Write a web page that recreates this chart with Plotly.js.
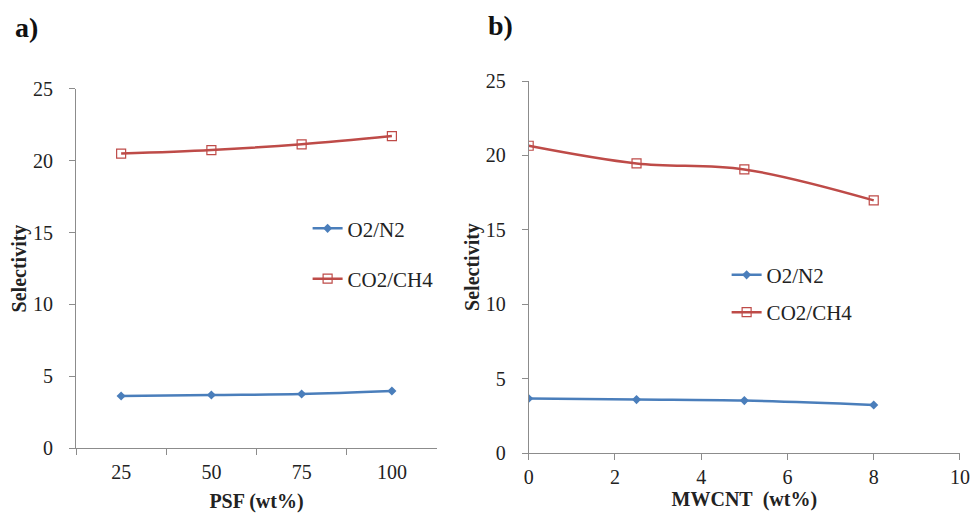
<!DOCTYPE html>
<html>
<head>
<meta charset="utf-8">
<script src="https://cdn.plot.ly/plotly-3.0.1.min.js"></script>
<style>html,body{margin:0;padding:0;background:#fff;}#chart{width:974px;height:513px;}</style>
</head>
<body>
<div id="chart"></div>
<script>
// Panel a) PSF content
const psfCategories = ["25", "50", "75", "100"];
const psfO2N2 = [3.62, 3.69, 3.76, 3.97];
const psfCO2CH4 = [20.5, 20.75, 21.15, 21.72];

// Panel b) MWCNT content
const mwcntX = [0, 2.5, 5, 8];
const mwcntO2N2 = [3.66, 3.59, 3.52, 3.23];
const mwcntCO2CH4 = [20.65, 19.46, 19.06, 16.98];

const seriesNames = ["O2/N2", "CO2/CH4"];
const yTicks = [0, 5, 10, 15, 20, 25];
const xTicksB = [0, 2, 4, 6, 8, 10];

const blue = "#4a7ebb";
const red = "#be4b48";
const serif = "'Times New Roman', 'Liberation Serif', Times, serif";

const traces = [
  {x: psfCategories, y: psfO2N2, name: seriesNames[0], xaxis: "x", yaxis: "y", legend: "legend", legendgroup: "a1",
   mode: "lines+markers", line: {color: blue, width: 2.5, shape: "spline"}, marker: {symbol: "diamond", size: 7, color: blue}},
  {x: psfCategories, y: psfCO2CH4, name: seriesNames[1], xaxis: "x", yaxis: "y", legend: "legend", legendgroup: "a2",
   mode: "lines+markers", line: {color: red, width: 2.5, shape: "spline"}, marker: {symbol: "square-open", size: 9, color: red, line: {width: 1.2}}},
  {x: mwcntX, y: mwcntO2N2, name: seriesNames[0], xaxis: "x2", yaxis: "y2", legend: "legend2", legendgroup: "b1",
   mode: "lines+markers", line: {color: blue, width: 2.5, shape: "spline"}, marker: {symbol: "diamond", size: 7, color: blue}},
  {x: mwcntX, y: mwcntCO2CH4, name: seriesNames[1], xaxis: "x2", yaxis: "y2", legend: "legend2", legendgroup: "b2",
   mode: "lines+markers", line: {color: red, width: 2.5, shape: "spline"}, marker: {symbol: "square-open", size: 9, color: red, line: {width: 1.2}}}
];

function axisBase() {
  return {
    showgrid: false, zeroline: false, showline: true, linecolor: "#8c8c8c", linewidth: 1,
    ticks: "outside", ticklen: 6, tickcolor: "#8c8c8c",
    tickfont: {family: serif, size: 20, color: "#222"}
  };
}

const layout = {
  width: 974, height: 513,
  margin: {l: 76, r: 14, t: 81, b: 60},
  paper_bgcolor: "#fff", plot_bgcolor: "#fff",
  font: {family: serif, size: 20, color: "#222"},
  xaxis: Object.assign(axisBase(), {
    domain: [0, 0.4084], type: "category", categoryorder: "array", categoryarray: psfCategories,
    tickson: "boundaries", range: [-0.5, 3.5], anchor: "y", ticklabelstandoff: 6,
    title: {text: "<b>PSF (wt%)</b>", font: {family: serif, size: 20, color: "#222"}, standoff: 12}
  }),
  yaxis: Object.assign(axisBase(), {
    domain: [0.0134, 0.9785], range: [0, 25], tickvals: yTicks, anchor: "x", ticklabelstandoff: 12,
    title: {text: "<b>Selectivity</b>", font: {family: serif, size: 20, color: "#222"}, standoff: 0}
  }),
  xaxis2: Object.assign(axisBase(), {
    domain: [0.5121, 1], range: [0, 10], tickvals: xTicksB, anchor: "y2",
    title: {text: "<b>MWCNT\u00a0 (wt%)</b>", font: {family: serif, size: 20, color: "#222"}, standoff: 2}
  }),
  yaxis2: Object.assign(axisBase(), {
    domain: [0, 1], range: [0, 25], tickvals: yTicks, anchor: "x2", ticklabelstandoff: 12,
    title: {text: "<b>Selectivity</b>", font: {family: serif, size: 20, color: "#222"}, standoff: 0}
  }),
  legend: {x: 0.262, y: 0.658, xanchor: "left", yanchor: "top", bgcolor: "rgba(0,0,0,0)",
           font: {family: serif, size: 21, color: "#222"}, tracegroupgap: 20, traceorder: "grouped"},
  legend2: {x: 0.736, y: 0.533, xanchor: "left", yanchor: "top", bgcolor: "rgba(0,0,0,0)",
            font: {family: serif, size: 21, color: "#222"}, tracegroupgap: 7, traceorder: "grouped"},
  annotations: [
    {text: "<b>a)</b>", xref: "paper", yref: "paper", x: -0.071, y: 1.145, xanchor: "left", yanchor: "middle",
     showarrow: false, font: {family: serif, size: 28, color: "#111"}},
    {text: "<b>b)</b>", xref: "paper", yref: "paper", x: 0.464, y: 1.15, xanchor: "left", yanchor: "middle",
     showarrow: false, font: {family: serif, size: 28, color: "#111"}}
  ],
  showlegend: true
};

Plotly.newPlot("chart", traces, layout, {displayModeBar: false, staticPlot: true});
</script>
</body>
</html>
